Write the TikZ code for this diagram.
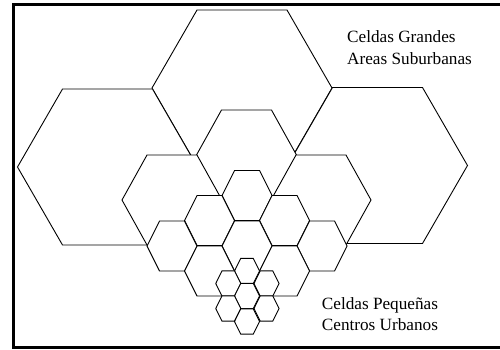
\documentclass[tikz,border=0pt]{standalone}
\usepackage{fontspec}
\setmainfont{Liberation Serif}
% flat-top hexagon: centre x, centre y, half width, half height
\newcommand\hexcell[4]{%
  \filldraw[cell] ({#1-#3},{#2}) -- ({#1-0.5*#3},{#2-#4}) -- ({#1+0.5*#3},{#2-#4})
    -- ({#1+#3},{#2}) -- ({#1+0.5*#3},{#2+#4}) -- ({#1-0.5*#3},{#2+#4}) -- cycle;}
\begin{document}
\begin{tikzpicture}[x=1pt,y=-1pt,
  cell/.style={draw=black, fill=white, line width=0.9pt, line join=miter},
  frameline/.style={draw=black, line width=2.7pt},
  lbl/.style={font=\fontsize{17.2}{21}\selectfont, inner sep=0pt, anchor=base west}]
\useasboundingbox (0,0) rectangle (500,350);
\fill[white] (0,0) rectangle (500,350);
% large cells
\hexcell{242}{88}{90}{78}
\hexcell{107.5}{167}{90}{78}
\hexcell{377.5}{165.5}{90}{78}
% medium cells
\hexcell{246.5}{155}{50}{45}
\hexcell{172}{200}{50}{45}
\hexcell{321}{200}{50}{45}
% small cells
\hexcell{247}{195.5}{25}{25}
\hexcell{209.5}{220.5}{25}{25}
\hexcell{284.5}{220.5}{25}{25}
\hexcell{172}{246}{25}{25}
\hexcell{247}{246}{25}{25}
\hexcell{322}{246}{25}{25}
\hexcell{209.5}{271}{25}{25}
\hexcell{284.5}{271}{25}{25}
\hexcell{247}{296}{25}{25}
% tiny cells
\hexcell{247}{271}{12.5}{12.6}
\hexcell{228.25}{283.5}{12.5}{12.6}
\hexcell{266.5}{283.5}{12.5}{12.6}
\hexcell{247}{296}{12.5}{12.6}
\hexcell{228.25}{308.5}{12.5}{12.6}
\hexcell{266.5}{308.5}{12.5}{12.6}
\hexcell{247}{321.5}{12.5}{12.6}
% frame
\draw[frameline] (503,4.2) -- (13.7,4.2) -- (13.7,347.5) -- (503,347.5);
% labels
\node[lbl] (tbig1) at (347,42.7) {Celdas Grandes};
\node[lbl] (tbig2) at (347,64.3) {Areas Suburbanas};
\node[lbl] (tsmall1) at (321.7,309.3) {Celdas Pequeñas};
\node[lbl] (tsmall2) at (321.7,330.5) {Centros Urbanos};
\end{tikzpicture}
\end{document}
